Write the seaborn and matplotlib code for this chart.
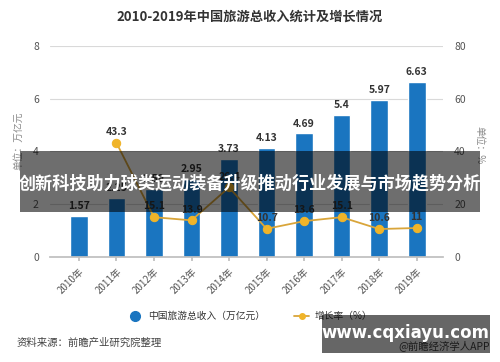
import matplotlib
matplotlib.use("Agg")
import matplotlib.pyplot as plt
import seaborn as sns
import pandas as pd
import numpy as np
from matplotlib.lines import Line2D
from matplotlib.patches import Rectangle

years = ["2010年", "2011年", "2012年", "2013年", "2014年", "2015年", "2016年", "2017年", "2018年", "2019年"]
revenue = [1.57, 2.25, 2.59, 2.95, 3.73, 4.13, 4.69, 5.4, 5.97, 6.63]
growth = [np.nan, 43.3, 15.1, 13.9, 26.4, 10.7, 13.6, 15.1, 10.6, 11.0]
growth_labels = ["", "43.3", "15.1", "13.9", "26.4", "10.7", "13.6", "15.1", "10.6", "11"]

sns.set_theme(style="white")
plt.rcParams['font.family'] = ['Noto Sans CJK SC', 'DejaVu Sans']

BLUE = "#1a75c0"
GOLD = "#f0b429"
LINEC = "#d9a53a"
GRID = "#d9d9d9"
TXT = "#555555"

df = pd.DataFrame({"year": years, "revenue": revenue, "growth": growth, "pos": np.arange(len(years))})

fig = plt.figure(figsize=(5, 3.62), dpi=100)
ax = fig.add_axes([0.10, 0.29, 0.786, 0.583])
sns.barplot(data=df, x="year", y="revenue", color=BLUE, width=0.47, ax=ax, saturation=1)
ax.set_ylim(0, 8)
ax.set_xlim(-0.77, 9.7)
ax.set_yticks([0, 2, 4, 6, 8])
ax.yaxis.grid(True, color=GRID, linewidth=0.8)
ax.set_axisbelow(True)
for s in ["top", "right", "left"]:
    ax.spines[s].set_visible(False)
ax.spines["bottom"].set_color("#bfbfbf")
ax.set_xlabel("")
ax.set_ylabel("")
ax.tick_params(axis="y", length=0, labelsize=7.5, labelcolor=TXT, pad=8)
ax.tick_params(axis="x", length=3, color="#bfbfbf", labelsize=7, labelcolor=TXT, bottom=True)
for lab in ax.get_xticklabels():
    lab.set_rotation(45)
    lab.set_ha("right")
    lab.set_rotation_mode("anchor")
for i, v in enumerate(revenue):
    ax.text(i, v + 0.18, f"{v:g}", ha="center", va="bottom", fontsize=7.5, fontweight="bold", color="#333333")

ax2 = ax.twinx()
sns.lineplot(data=df, x="pos", y="growth", ax=ax2, color=LINEC, linewidth=1.3,
             marker="o", markersize=6, markerfacecolor=GOLD, markeredgecolor=GOLD)
ax2.set_ylim(0, 80)
ax2.set_xlim(-0.77, 9.7)
ax2.set_yticks([0, 20, 40, 60, 80])
for s in ["top", "right", "left", "bottom"]:
    ax2.spines[s].set_visible(False)
ax2.tick_params(axis="y", length=0, labelsize=7.5, labelcolor=TXT, pad=8)
ax2.set_ylabel("")
ax2.set_xlabel("")
for i, (g, l) in enumerate(zip(growth, growth_labels)):
    if l:
        ax2.text(i, g + 2.2, l, ha="center", va="bottom", fontsize=7.5, fontweight="bold", color="#333333")

fig.text(0.5, 0.953, "2010-2019年中国旅游总收入统计及增长情况", ha="center", va="center",
         fontsize=9.5, fontweight="bold", color="#333333")
fig.text(0.037, 0.61, "单位：万亿元", rotation=90, ha="center", va="center", fontsize=7, color="#888888")
fig.text(0.958, 0.6, "单位：%", rotation=270, ha="center", va="center", fontsize=7, color="#888888")

handles = [Line2D([0], [0], marker="o", linestyle="none", markersize=7, markerfacecolor=BLUE, markeredgecolor=BLUE),
           Line2D([0], [0], marker="o", color=LINEC, linewidth=1.3, markersize=4, markerfacecolor=GOLD, markeredgecolor=GOLD)]
fig.legend(handles, ["中国旅游总收入（万亿元）", "增长率（%）"], loc="center", bbox_to_anchor=(0.5, 0.127),
           ncol=2, frameon=False, fontsize=7, handlelength=1.5, columnspacing=3, handletextpad=0.6,
           labelcolor="#333333")
fig.text(0.034, 0.052, "资料来源：前瞻产业研究院整理", ha="left", va="center", fontsize=7.5, color="#444444")
fig.text(0.98, 0.045, "@前瞻经济学人APP", ha="right", va="center", fontsize=7.5, color="#444444")

# overlay banner
fig.patches.append(Rectangle((0.04, 0.414), 0.92, 0.168, transform=fig.transFigure,
                             facecolor="black", alpha=0.57, edgecolor="none", zorder=10))
fig.text(0.5, 0.494, "创新科技助力球类运动装备升级推动行业发展与市场趋势分析", ha="center", va="center",
         fontsize=12.3, fontweight="bold", color="white", zorder=11)
# watermark box
fig.patches.append(Rectangle((0.644, 0.025), 0.336, 0.105, transform=fig.transFigure,
                             facecolor="black", alpha=0.6, edgecolor="none", zorder=10))
fig.text(0.81, 0.08, "www.cqxiayu.com", ha="center", va="center", fontsize=12, fontweight="bold",
         color="white", family=["DejaVu Sans"], zorder=11)

fig.savefig("out.png", dpi=100)
